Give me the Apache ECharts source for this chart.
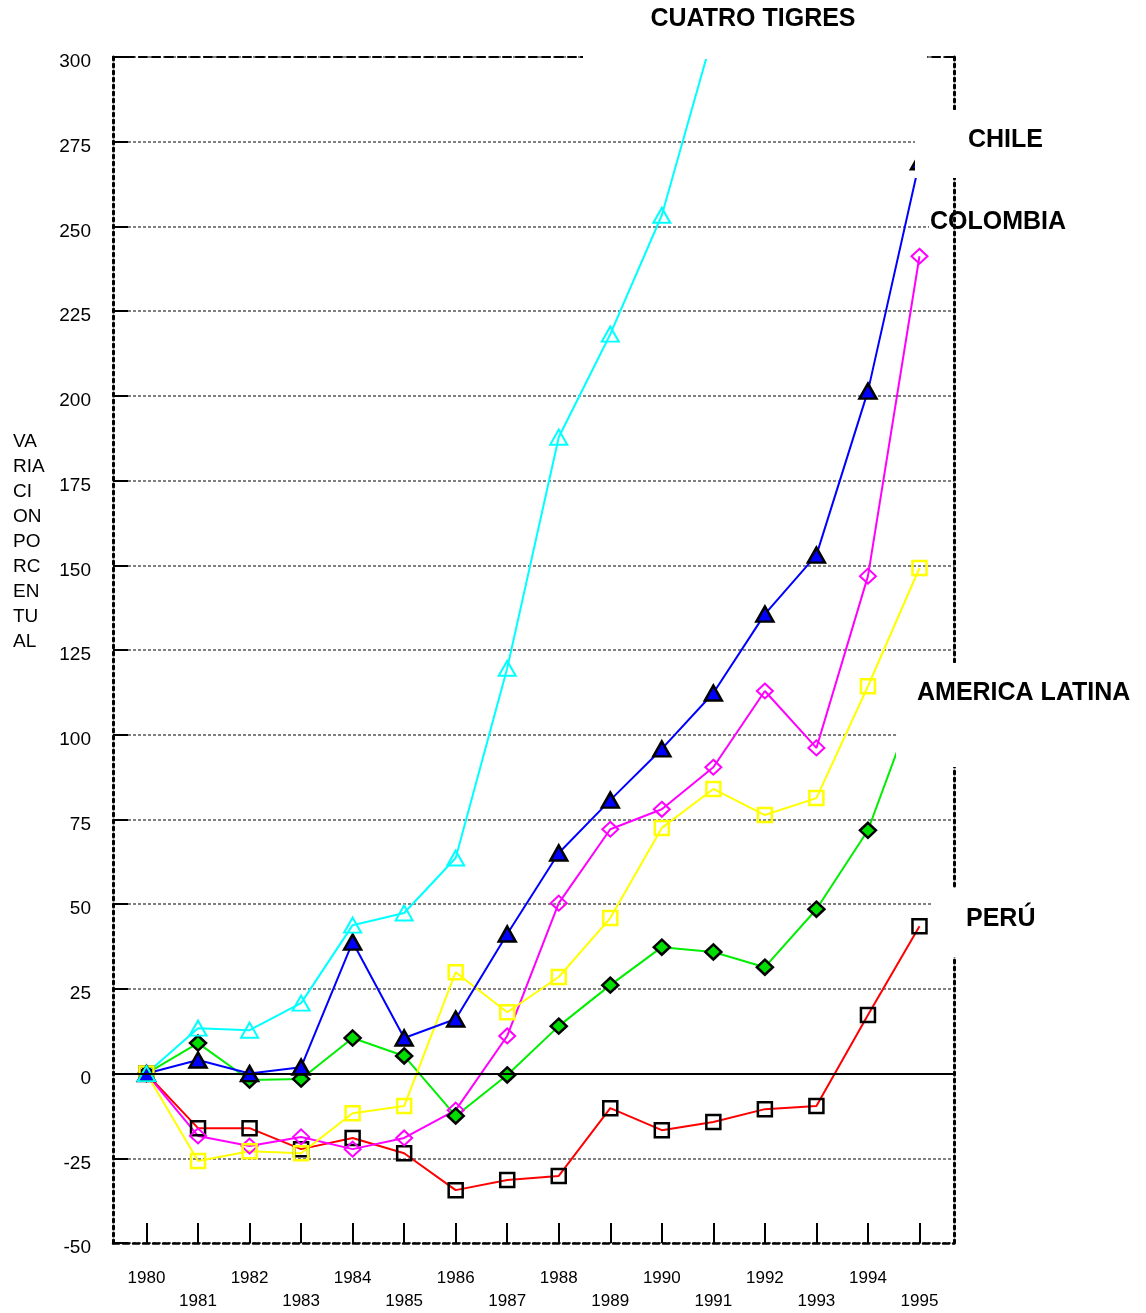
<!DOCTYPE html>
<html>
<head>
<meta charset="utf-8">
<script src="https://cdn.jsdelivr.net/npm/echarts@6/dist/echarts.min.js"></script>
<style>html,body{margin:0;padding:0;background:#fff}#c{width:1146px;height:1313px}</style>
</head>
<body>
<div id="c"></div>
<script>
var years = [1980,1981,1982,1983,1984,1985,1986,1987,1988,1989,1990,1991,1992,1993,1994,1995];
var evenYears = [1980,1982,1984,1986,1988,1990,1992,1994];
var oddYears = [1981,1983,1985,1987,1989,1991,1993,1995];
var yTicks = [-50,-25,0,25,50,75,100,125,150,175,200,225,250,275,300];

var cuatroTigres = [0,13.4,12.8,20.8,43.8,47.4,63.6,119.6,187.8,218.2,253.3,307];
var chile = [0,4.0,0,1.9,38.8,10.5,16.1,41.2,65.1,80.7,95.8,112.3,135.6,153.0,201.4,269.1];
var colombia = [0,-18.4,-21.4,-18.7,-22.3,-19.0,-10.8,11.1,50.3,72.1,78.0,90.4,112.9,96.1,146.8,241.2];
var amarillo = [0,-25.8,-22.9,-23.5,-11.7,-9.6,29.9,18.1,28.5,45.9,72.5,84.0,76.3,81.3,114.3,149.2];
var americaLatina = [0,9.0,-1.9,-1.6,10.5,5.2,-12.5,-0.4,14.0,26.1,37.3,35.9,31.4,48.5,71.8,113];
var peru = [0,-16.1,-16.1,-22.3,-19.0,-23.5,-34.4,-31.4,-30.2,-10.2,-16.7,-14.3,-10.5,-9.6,17.3,43.5];

var labelNames = ['CUATRO TIGRES','CHILE','COLOMBIA','AMERICA LATINA','PERÚ'];
var yTitle = ['VA','RIA','CI','ON','PO','RC','EN','TU','AL'];

function pairs(arr){ return arr.map(function(v,i){ return [years[i], v]; }); }
var FONT = 'Liberation Sans, Arial, sans-serif';

var chart = echarts.init(document.getElementById('c'), null, {renderer:'canvas'});

function lineSeries(name, data, color, symbol, size, fill, border, bw){
  return {
    name: name, type: 'line', data: pairs(data), xAxisIndex: 0, yAxisIndex: 0,
    symbol: symbol, symbolSize: size, showAllSymbol: true, clip: true,
    lineStyle: {color: color, width: 2},
    itemStyle: {color: fill, borderColor: border, borderWidth: bw},
    emphasis: {disabled: true}, animation: false
  };
}

var series = [
  lineSeries('PERÚ', peru, '#ff0000', 'rect', 14, 'rgba(0,0,0,0)', '#000000', 2.5),
  lineSeries('COLOMBIA', colombia, '#ff00ff', 'diamond', [16,15], 'rgba(0,0,0,0)', '#ff00ff', 2),
  lineSeries('AMERICA LATINA', americaLatina, '#00ee00', 'diamond', [16,15], '#00dd00', '#000000', 2.5),
  lineSeries('PROMEDIO', amarillo, '#ffff00', 'rect', 14, 'rgba(0,0,0,0)', '#ffff00', 2.5),
  lineSeries('CHILE', chile, '#0000ff', 'triangle', [17,15], '#0000ff', '#000000', 2.5),
  lineSeries('CUATRO TIGRES', cuatroTigres, '#00ffff', 'triangle', [17,15], 'rgba(0,0,0,0)', '#00ffff', 2)
];
series[0].markLine = {
  silent: true, symbol: ['none','none'], label: {show:false}, animation: false,
  lineStyle: {color:'#000', width: 2, type: 'solid'},
  data: [{yAxis: 0}]
};

var option = {
  backgroundColor: '#ffffff',
  animation: false,
  grid: {left: 113, right: 192, top: 57, bottom: 70, containLabel: false},
  xAxis: [
    {
      type: 'value', position: 'bottom', min: 1979.35, max: 1995.67,
      axisLine: {show: true, onZero: false, lineStyle: {color:'#000', width: 2.5, type: [6,4]}},
      axisTick: {show: true, inside: true, length: 20, customValues: years, lineStyle: {color:'#000', width: 2}},
      axisLabel: {show: true, customValues: evenYears, margin: 27, color:'#000', fontSize: 17, fontFamily: FONT,
        formatter: function(v){ return String(Math.round(v)); }},
      splitLine: {show: false}
    },
    {
      type: 'value', position: 'top', min: 1979.35, max: 1995.67,
      axisLine: {show: true, onZero: false, lineStyle: {color:'#000', width: 2, type: [8,5]}},
      axisTick: {show: false}, axisLabel: {show: false}, splitLine: {show: false}
    },
    {
      type: 'value', position: 'bottom', min: 1979.35, max: 1995.67,
      axisLine: {show: false, onZero: false},
      axisTick: {show: false},
      axisLabel: {show: true, customValues: oddYears, margin: 50, color:'#000', fontSize: 17, fontFamily: FONT,
        formatter: function(v){ return String(Math.round(v)); }},
      splitLine: {show: false}
    }
  ],
  yAxis: [
    {
      type: 'value', position: 'left', min: -50, max: 300, interval: 25,
      axisLine: {show: true, onZero: false, lineStyle: {color:'#000', width: 3, type: [3,4]}},
      axisTick: {show: true, inside: true, length: 15, lineStyle: {color:'#000', width: 2}},
      axisLabel: {show: true, margin: 22, color:'#000', fontSize: 19, fontFamily: FONT,
        verticalAlign: 'top', lineHeight: 10, customValues: yTicks},
      splitLine: {show: true, lineStyle: {color:'#808080', width: 2, type: [3,2]}}
    },
    {
      type: 'value', position: 'right', min: -50, max: 300, interval: 25,
      axisLine: {show: true, onZero: false, lineStyle: {color:'#000', width: 3, type: [3,4]}},
      axisTick: {show: false}, axisLabel: {show: false}, splitLine: {show: false}
    }
  ],
  series: series,
  graphic: [
    {type:'rect', z:100, shape:{x:583, y:0, width:344, height:59}, style:{fill:'#fff'}},
    {type:'text', z:101, x:753, y:19, style:{text: labelNames[0], font:'bold 25px ' + FONT, fill:'#000', align:'center', verticalAlign:'middle'}},
    {type:'rect', z:100, shape:{x:915, y:110, width:231, height:68}, style:{fill:'#fff'}},
    {type:'text', z:101, x:968, y:140, style:{text: labelNames[1], font:'bold 25px ' + FONT, fill:'#000', align:'left', verticalAlign:'middle'}},
    {type:'rect', z:100, shape:{x:929, y:213, width:23, height:19}, style:{fill:'#fff'}},
    {type:'text', z:101, x:930, y:222, style:{text: labelNames[2], font:'bold 25px ' + FONT, fill:'#000', align:'left', verticalAlign:'middle'}},
    {type:'rect', z:100, shape:{x:896, y:663, width:250, height:104}, style:{fill:'#fff'}},
    {type:'text', z:101, x:917, y:693, style:{text: labelNames[3], font:'bold 25px ' + FONT, fill:'#000', align:'left', verticalAlign:'middle'}},
    {type:'rect', z:100, shape:{x:933, y:888, width:213, height:69}, style:{fill:'#fff'}},
    {type:'text', z:101, x:966, y:919, style:{text: labelNames[4], font:'bold 25px ' + FONT, fill:'#000', align:'left', verticalAlign:'middle'}},
    {type:'text', z:101, x:13, y:429, style:{text: yTitle.join('\n'), font:'19px ' + FONT, lineHeight: 25, fill:'#000', align:'left', verticalAlign:'top'}}
  ]
};
chart.setOption(option);
</script>
</body>
</html>
